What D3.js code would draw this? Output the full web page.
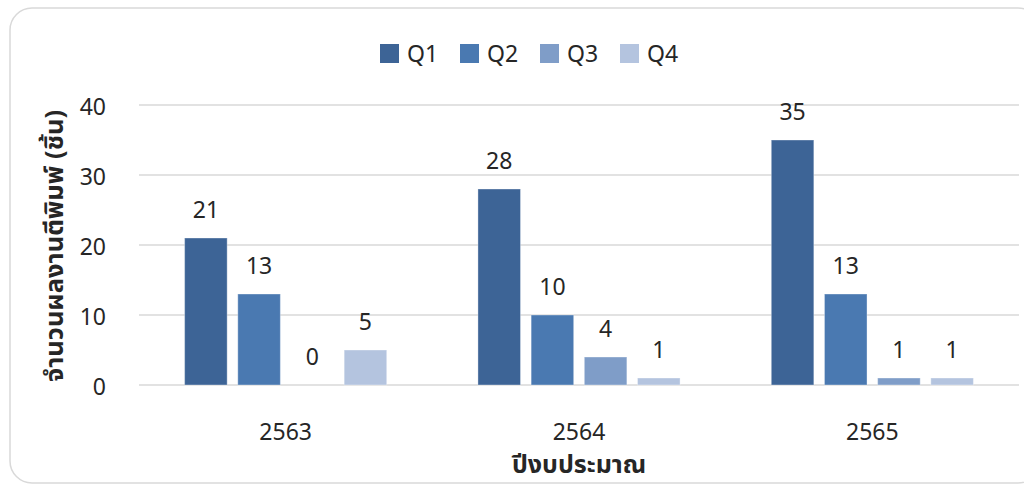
<!DOCTYPE html>
<html>
<head>
<meta charset="utf-8">
<script src="https://cdn.jsdelivr.net/npm/d3@7"></script>
<style>
  html, body { margin: 0; padding: 0; background: #fff; }
  svg { display: block; }
  text { font-family: "Noto Sans Thai", "Leelawadee UI", Tahoma, "Noto Sans", "DejaVu Sans", sans-serif; fill: #262626; }
</style>
</head>
<body>
<svg id="chart" width="1024" height="485"></svg>
<script>
// Publications per fiscal year, split by quarter
const years = ["2563", "2564", "2565"];
const quarters = ["Q1", "Q2", "Q3", "Q4"];
const q1 = [21, 28, 35];
const q2 = [13, 10, 13];
const q3 = [0, 4, 1];
const q4 = [5, 1, 1];
const yTicks = [0, 10, 20, 30, 40];
const colors = ["#3d6496", "#4a79b1", "#7f9dc8", "#b4c4df"];
const yTitle = "จำนวนผลงานตีพิมพ์ (ชิ้น)";
const xTitle = "ปีงบประมาณ";

const seriesValues = [q1, q2, q3, q4];
const rows = years.map((y, i) => ({
  year: y,
  values: quarters.map((q, j) => ({ q, v: seriesValues[j][i], c: colors[j] }))
}));

const svg = d3.select("#chart");

// outer frame
svg.append("rect")
  .attr("x", 10).attr("y", 8)
  .attr("width", 1030).attr("height", 475)
  .attr("rx", 22).attr("ry", 22)
  .attr("fill", "#fff")
  .attr("stroke", "#d9d9d9").attr("stroke-width", 1.5);

const plot = { left: 139, right: 1019, top: 105, bottom: 385 };

const x0 = d3.scaleBand().domain(years)
  .range([plot.left, plot.right])
  .paddingInner(0.311).paddingOuter(0.1555);
const x1 = d3.scaleBand().domain(quarters)
  .range([0, x0.bandwidth()])
  .paddingInner(0.2).paddingOuter(0);
const y = d3.scaleLinear().domain([0, 40]).range([plot.bottom, plot.top]);

// gridlines
svg.append("g")
  .selectAll("line").data(yTicks).join("line")
  .attr("x1", plot.left).attr("x2", plot.right)
  .attr("y1", d => y(d)).attr("y2", d => y(d))
  .attr("stroke", "#d9d9d9").attr("stroke-width", 1.5);

// y tick labels
svg.append("g")
  .selectAll("text").data(yTicks).join("text")
  .attr("x", 106).attr("y", d => y(d) + 10)
  .attr("text-anchor", "end")
  .attr("font-size", 23)
  .text(d => d);

// bars
const groups = svg.append("g").selectAll("g").data(rows).join("g")
  .attr("transform", d => `translate(${x0(d.year)},0)`);

groups.selectAll("rect").data(d => d.values).join("rect")
  .attr("x", d => x1(d.q))
  .attr("width", x1.bandwidth())
  .attr("y", d => y(d.v))
  .attr("height", d => y(0) - y(d.v))
  .attr("fill", d => d.c)
  .attr("stroke", "rgba(255,255,255,0.35)")
  .attr("stroke-width", d => d.v > 0 ? 1 : 0);

// value labels
groups.selectAll("text").data(d => d.values).join("text")
  .attr("x", d => x1(d.q) + x1.bandwidth() / 2)
  .attr("y", d => y(d.v) - 20)
  .attr("text-anchor", "middle")
  .attr("font-size", 23)
  .text(d => d.v);

// category labels
svg.append("g").selectAll("text").data(years).join("text")
  .attr("x", d => x0(d) + x0.bandwidth() / 2)
  .attr("y", 440)
  .attr("text-anchor", "middle")
  .attr("font-size", 23)
  .text(d => d);

// axis titles
svg.append("text")
  .attr("x", (plot.left + plot.right) / 2).attr("y", 473)
  .attr("text-anchor", "middle")
  .attr("font-size", 25).attr("font-weight", "bold")
  .text(xTitle);

svg.append("text")
  .attr("transform", "translate(63,246) rotate(-90)")
  .attr("text-anchor", "middle")
  .attr("font-size", 25.5).attr("font-weight", "bold")
  .text(yTitle);

// legend
const legend = svg.append("g").selectAll("g").data(quarters).join("g")
  .attr("transform", (d, i) => `translate(${380 + i * 80},44)`);
legend.append("rect")
  .attr("width", 19).attr("height", 19)
  .attr("fill", (d, i) => colors[i]);
legend.append("text")
  .attr("x", 27).attr("y", 18)
  .attr("font-size", 23)
  .text(d => d);
</script>
</body>
</html>
